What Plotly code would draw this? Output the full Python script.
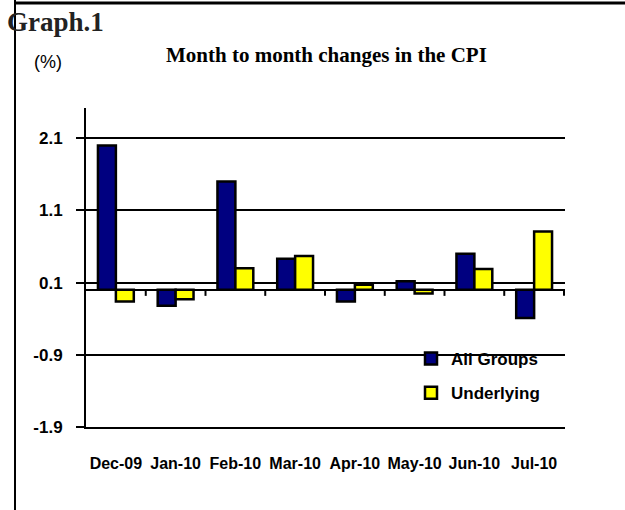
import plotly.graph_objects as go

# ---- data ----
months = ["Dec-09", "Jan-10", "Feb-10", "Mar-10", "Apr-10", "May-10", "Jun-10", "Jul-10"]
all_groups = [2.0, -0.22, 1.5, 0.43, -0.16, 0.12, 0.50, -0.39]
underlying = [-0.16, -0.13, 0.30, 0.47, 0.07, -0.05, 0.29, 0.81]
y_ticks = [2.1, 1.1, 0.1, -0.9, -1.9]
y_range = [-1.9, 2.52]

# ---- layout geometry (pixels) ----
W, H = 625, 510
ML, MR, MT, MB = 86, 60, 108, 83
PW, PH = W - ML - MR, H - MT - MB


def px(x):
    return (x - ML) / PW


def py(y):
    return (H - MB - y) / PH


SANS = "Liberation Sans, Arial, sans-serif"
SERIF = "Liberation Serif, Times New Roman, serif"

fig = go.Figure()
fig.add_trace(go.Bar(
    x=months, y=all_groups, name="All Groups",
    marker=dict(color="#000080", line=dict(color="black", width=2.5)),
    legendgroup="a",
))
fig.add_trace(go.Bar(
    x=months, y=underlying, name="Underlying",
    marker=dict(color="#FFFF00", line=dict(color="black", width=2.5)),
    legendgroup="b",
))

# category tick marks on the zero line
shapes = []
for i in range(len(months)):
    shapes.append(dict(type="line", xref="x", yref="y", ysizemode="pixel", yanchor=0,
                       x0=i + 0.5, x1=i + 0.5, y0=0, y1=-6,
                       line=dict(color="black", width=2)))
# frame lines
shapes.append(dict(type="line", xref="paper", yref="paper",
                   x0=px(15), x1=px(15), y0=py(0), y1=py(H), line=dict(color="black", width=2)))
shapes.append(dict(type="line", xref="paper", yref="paper",
                   x0=px(15), x1=px(W), y0=py(3), y1=py(3), line=dict(color="black", width=3)))

annotations = [
    dict(text="<b>Graph.1</b>", xref="paper", yref="paper", x=px(5), y=py(22),
         xanchor="left", yanchor="middle", showarrow=False,
         font=dict(family=SERIF, size=27, color="#222")),
    dict(text="(%)", xref="paper", yref="paper", x=px(32), y=py(62),
         xanchor="left", yanchor="middle", showarrow=False,
         font=dict(family=SANS, size=18, color="black")),
    dict(text="<b>Month to month changes in the CPI</b>", xref="paper", yref="paper",
         x=px(326), y=py(55), xanchor="center", yanchor="middle", showarrow=False,
         font=dict(family=SERIF, size=21, color="black")),
]

fig.update_layout(
    width=W, height=H,
    margin=dict(l=ML, r=MR, t=MT, b=MB, pad=0),
    paper_bgcolor="white", plot_bgcolor="white",
    barmode="group", bargap=0.4, bargroupgap=0,
    showlegend=True,
    legend=dict(x=px(411), y=py(341), xanchor="left", yanchor="top",
                bgcolor="rgba(0,0,0,0)", traceorder="grouped", tracegroupgap=9,
                font=dict(family=SANS, size=17, color="black", weight="bold")),
    shapes=shapes,
    annotations=annotations,
    xaxis=dict(type="category", showline=True, linecolor="black", linewidth=2,
               ticks="", showgrid=False, zeroline=False,
               ticklabelstandoff=21,
               tickfont=dict(family=SANS, size=16, color="black", weight="bold")),
    yaxis=dict(range=y_range, tickvals=y_ticks, ticktext=[str(v) for v in y_ticks],
               showgrid=True, gridcolor="black", gridwidth=2,
               showline=True, linecolor="black", linewidth=2,
               ticks="outside", ticklen=8, tickwidth=2, tickcolor="black",
               zeroline=True, zerolinecolor="black", zerolinewidth=2,
               ticklabelstandoff=10,
               tickfont=dict(family=SANS, size=17, color="black", weight="bold")),
)

fig.write_html("out.html", config={"displayModeBar": False},
               post_script="document.body.style.margin='0';")
